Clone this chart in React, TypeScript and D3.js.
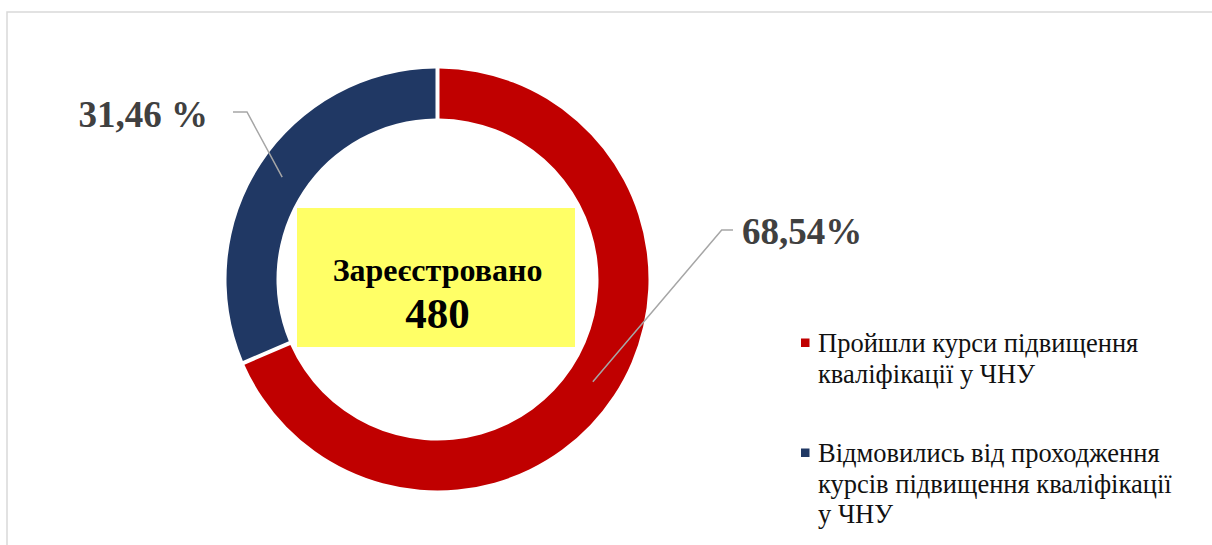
import * as d3 from 'd3'

// chart values
const categories = [
  'Пройшли курси підвищення кваліфікації у ЧНУ',
  'Відмовились від проходження курсів підвищення кваліфікації у ЧНУ',
]
const shares = [68.54, 31.46]
const shareLabels = ['68,54%', '31,46 %']
const legendLines = [
  ['Пройшли курси підвищення', 'кваліфікації у ЧНУ'],
  ['Відмовились від проходження', 'курсів підвищення кваліфікації', 'у ЧНУ'],
]
const centerTitle = 'Зареєстровано'
const registered = 480

const colors = ['#C00000', '#203864']
const W = 1212
const H = 545
const cx = 437.5
const cy = 279.5
const outerR = 211
const innerR = 161
const font = '"Liberation Serif", "Times New Roman", serif'

// label layout: elbow point, end of the horizontal tail, text anchor
const labelLayout = [
  { elbow: [721.7, 230], tail: [733, 230], text: [742, 244], anchor: 'start' },
  { elbow: [247, 112], tail: [233, 112], text: [208, 127], anchor: 'end' },
]

export default function App() {
  const pie = d3.pie<number>().sort(null).value(d => d)
  const arcs = pie(shares)
  const arc = d3.arc<d3.PieArcDatum<number>>()
    .innerRadius(innerR)
    .outerRadius(outerR)
    .padRadius(outerR)
    .padAngle(4 / outerR)
  const mid = d3.arc<d3.PieArcDatum<number>>().innerRadius(innerR).outerRadius(outerR)

  return (
    <div style={{ position: 'fixed', left: 0, top: 0 }}>
      <svg width={W} height={H} style={{ display: 'block', background: '#fff' }}>
        <rect x={7} y={12} width={W + 20} height={H + 20} fill="#fff" stroke="#d9d9d9" strokeWidth={1.5} />
        <g transform={`translate(${cx},${cy})`}>
          {arcs.map((a, i) => (
            <path key={categories[i]} d={arc(a) || ''} fill={colors[i]} />
          ))}
        </g>
        {arcs.map((a, i) => {
          const [mx, my] = mid.centroid(a)
          const l = labelLayout[i]
          return (
            <g key={'lbl' + i}>
              <polyline
                points={`${cx + mx},${cy + my} ${l.elbow[0]},${l.elbow[1]} ${l.tail[0]},${l.tail[1]}`}
                fill="none"
                stroke="#a6a6a6"
                strokeWidth={1.5}
              />
              <text
                x={l.text[0]}
                y={l.text[1]}
                textAnchor={l.anchor as any}
                fontFamily={font}
                fontWeight="bold"
                fontSize={37}
                fill="#404040"
              >
                {shareLabels[i]}
              </text>
            </g>
          )
        })}
        <rect x={297} y={208} width={278} height={139} fill="#FFFF66" />
        <text x={cx} y={281} textAnchor="middle" fontFamily={font} fontWeight="bold" fontSize={32} fill="#000">
          {centerTitle}
        </text>
        <text x={cx} y={328} textAnchor="middle" fontFamily={font} fontWeight="bold" fontSize={43} fill="#000">
          {registered}
        </text>
        {legendLines.map((lines, i) => {
          const y0 = i === 0 ? 352 : 462
          return (
            <g key={'leg' + i}>
              <rect x={801} y={y0 - 13.5} width={8.5} height={8.5} fill={colors[i]} />
              {lines.map((t, j) => (
                <text key={j} x={818} y={y0 + j * 30.7} fontFamily={font} fontSize={26.5} fill="#111">
                  {t}
                </text>
              ))}
            </g>
          )
        })}
      </svg>
    </div>
  )
}
